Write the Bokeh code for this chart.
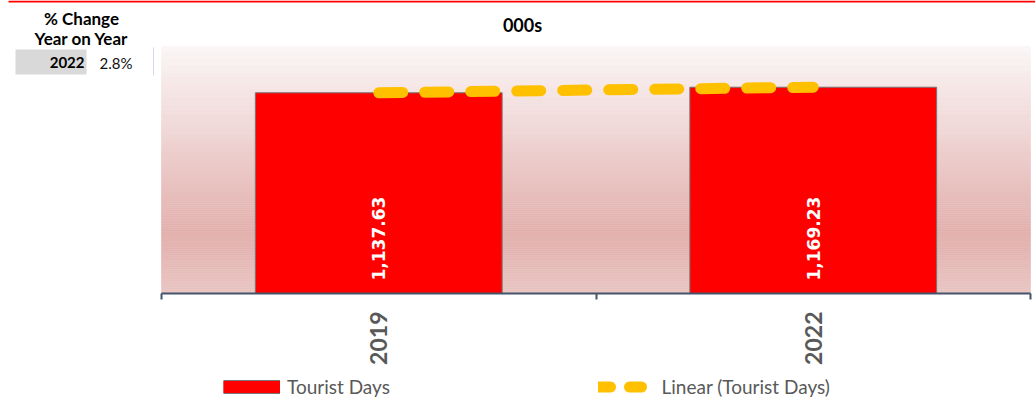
import math
import numpy as np
from bokeh.plotting import figure
from bokeh.models import (Range1d, LinearAxis, FixedTicker, Label, Legend, LegendItem,
                          BoxAnnotation, ColumnDataSource)
from bokeh.embed import file_html
from bokeh.resources import INLINE
from bokeh.core.properties import value

# ---------------- data ----------------
years = ["2019", "2022"]
tourist_days = [1137.63, 1169.23]
change_years = ["2022"]
change_pcts = ["2.8%"]
table_header = ["% Change", "Year on Year"]
title_text = "000s"
series_name = "Tourist Days"
trend_name = "Linear (Tourist Days)"
y_max = 1400

FONT = "Lato"
GRAY = "#595959"
RED = "#ff0000"
GOLD = "#ffc000"
AXIS = "#44546a"

W, H = 1035, 398
# plot area in canvas pixels
PL, PR, PT, PB = 161, 1030, 46, 293

n_cat = len(years)
xpos = [i + 0.5 for i in range(n_cat)]          # category slot centres
slot = (PR - PL) / n_cat
ppu = (PB - PT) / y_max                          # pixels per value unit

p = figure(width=W, height=H,
           x_range=Range1d(-PL / slot, n_cat + (W - PR) / slot),
           y_range=Range1d(-(H - PB) / ppu, PB / ppu),
           output_backend="svg", toolbar_location=None,
           x_axis_location=None, y_axis_location=None, min_border=0)
p.grid.grid_line_color = None
p.outline_line_color = None
p.background_fill_color = "white"
p.border_fill_color = "white"

# ---- gradient plot-area background ----
def _mix(c1, c2, t):
    return tuple(int(round(a + (b - a) * t)) for a, b in zip(c1, c2))

stops = [(0.0, (0xe9, 0xc6, 0xc3)), (0.243, (0xe2, 0xb0, 0xad)), (1.0, (0xfb, 0xf6, 0xf6))]
nb = 124
edges = np.linspace(0, y_max, nb + 1)
cols = []
for i in range(nb):
    t = (i + 0.5) / nb
    for (t0, c0), (t1, c1) in zip(stops[:-1], stops[1:]):
        if t0 <= t <= t1:
            c = _mix(c0, c1, (t - t0) / (t1 - t0))
            break
    cols.append("#%02x%02x%02x" % c)
p.quad(left=0, right=n_cat, bottom=edges[:-1], top=edges[1:], fill_color=cols, line_color=cols,
       line_width=0.6)

# ---- bars, labels, trend ----
bars = p.vbar(x=xpos, top=tourist_days, width=0.568, fill_color=RED, line_color="#767676", line_width=1)

bar_labels = ["{:,.2f}".format(v) for v in tourist_days]
p.text(x=xpos, y=[0] * n_cat, text=bar_labels, angle=math.pi / 2, text_align="left",
       text_baseline="middle", y_offset=-13, text_color="white", text_font=value("DejaVu Sans"),
       text_font_style="bold", text_font_size="17px")

p.line(x=xpos, y=tourist_days, line_color=GOLD, line_width=11, line_dash="24 22", line_cap="round")

# ---- axes (fixed at value 0) ----
tick_axis = LinearAxis(fixed_location=0, bounds=(0, n_cat),
                       ticker=FixedTicker(ticks=list(range(n_cat + 1))), major_tick_in=0,
                       major_tick_out=6, axis_line_color=AXIS, axis_line_width=2,
                       major_tick_line_color=AXIS, major_tick_line_width=2,
                       minor_tick_line_color=None, major_label_text_color=None,
                       major_label_standoff=0)
p.add_layout(tick_axis, "below")
cat_axis = LinearAxis(fixed_location=0, bounds=(0, n_cat), ticker=FixedTicker(ticks=xpos),
                      major_label_overrides={x: y for x, y in zip(xpos, years)},
                      axis_line_color=None, major_tick_line_color=None, minor_tick_line_color=None,
                      major_tick_in=0, major_tick_out=0,
                      major_label_orientation=math.pi / 2, major_label_text_font=FONT,
                      major_label_text_font_style="bold", major_label_text_font_size="23px",
                      major_label_text_color=GRAY, major_label_standoff=18)
p.add_layout(cat_axis, "below")

# ---- title & table (screen units: from canvas bottom-left) ----
def lab(x, y_top, text, size, bold=True, align="center", color="black"):
    p.add_layout(Label(x=x, y=H - y_top, x_units="screen", y_units="screen", text=text,
                       text_align=align, text_baseline="middle", text_font=FONT,
                       text_font_style="bold" if bold else "normal", text_font_size=size,
                       text_color=color))

def box(l, r, t, b, color):
    p.add_layout(BoxAnnotation(left=l, right=r, top=H - t, bottom=H - b, left_units="screen",
                               right_units="screen", top_units="screen", bottom_units="screen",
                               fill_color=color, fill_alpha=1, line_color=None))

box(8, W, 0, 2, RED)
lab(522, 24, title_text, "18px")
lab(81, 18, table_header[0], "17px")
lab(81, 38, table_header[1], "17px")
box(15, 86, 49, 74, "#d9d9d9")
lab(84, 62, change_years[0], "15px", align="right")
lab(99, 62, change_pcts[0], "15px", bold=False, align="left", color="#111111")
box(152.5, 153.5, 47, 75, "#d6d6e6")

# ---- legends (swatch renderers hold a single undrawn point) ----
def dummy():
    return ColumnDataSource(dict(x=[0.0], y=[float("nan")]))

sw_border = p.line(x="x", y="y", source=dummy(), line_color="#767676", line_width=14)
sw_fill = p.line(x="x", y="y", source=dummy(), line_color=RED, line_width=12)
trend_leg = p.line(x="x", y="y", source=dummy(), line_color=GOLD,
                   line_width=11, line_dash="12 19 12 40", line_cap="round")

leg_common = dict(orientation="horizontal", padding=0, margin=0, spacing=0, border_line_color=None,
                  background_fill_alpha=0, label_text_font=FONT, label_text_font_size="19px",
                  label_text_color=GRAY, label_height=20, glyph_width=57, glyph_height=15,
                  label_standoff=7)
leg1 = Legend(items=[LegendItem(label=series_name, renderers=[bars, sw_border, sw_fill])],
              location=(223, 0), **leg_common)
leg2 = Legend(items=[LegendItem(label=trend_name, renderers=[trend_leg])],
              location=(597.5, 0), **leg_common)
p.add_layout(leg1)
p.add_layout(leg2)

open("out.html", "w").write(file_html(p, INLINE))
